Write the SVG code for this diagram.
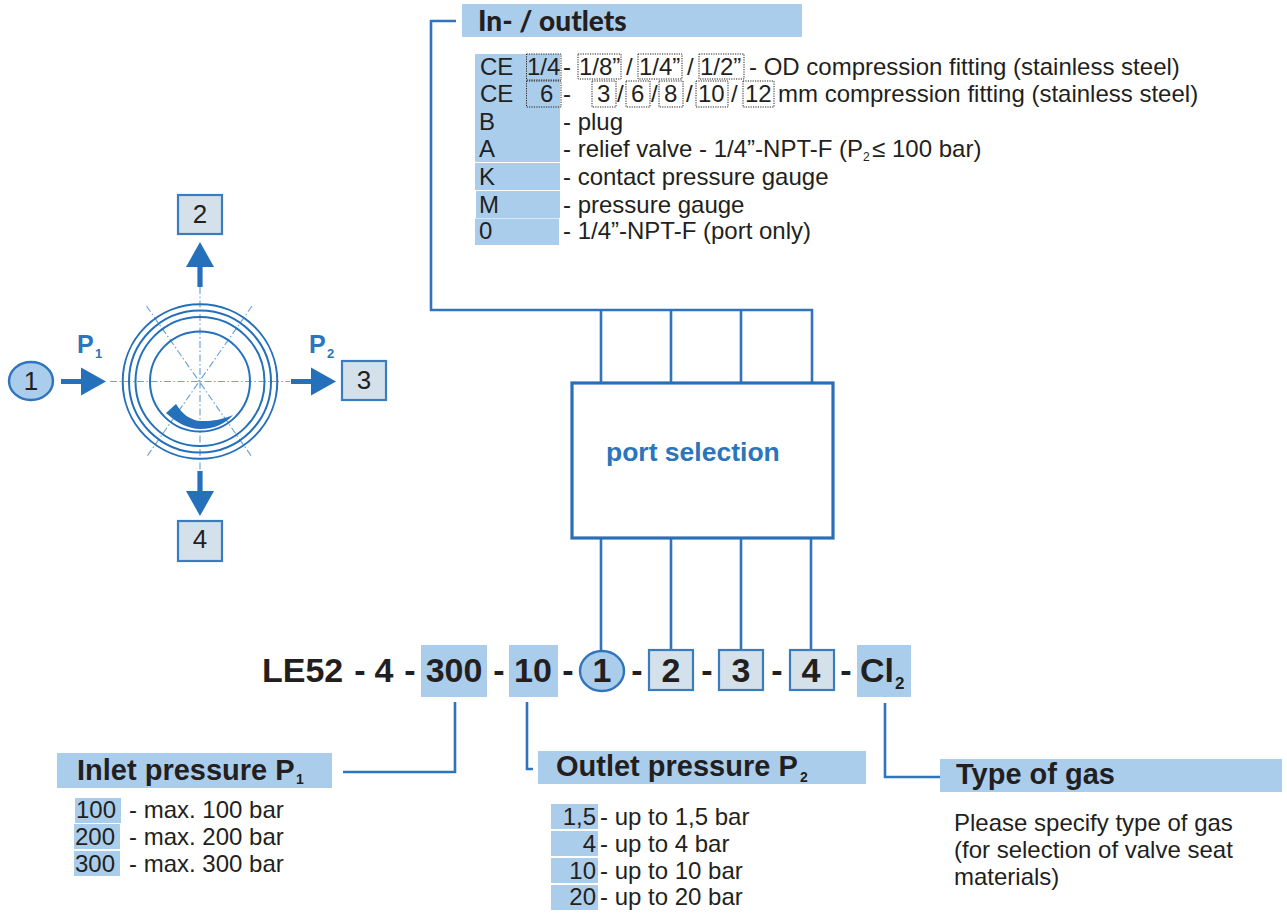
<svg xmlns="http://www.w3.org/2000/svg" width="1287" height="915" viewBox="0 0 1287 915">
<style>
text{font-family:"Liberation Sans",Arial,sans-serif;fill:#231f20}
.t{font-size:24px}
.h{font-size:29px;font-weight:bold}
.hs{font-size:14px;font-weight:bold}
.c{font-size:34px;font-weight:bold;text-anchor:middle}
.n{font-size:26px;text-anchor:middle}
.p{font-size:25px;font-weight:bold;fill:#2a75bb}
.s{font-size:13px;font-weight:bold;fill:#2a75bb}
.e{font-size:12px}
.m{text-anchor:end}
.b{fill:#abcdec}
.g{fill:#d5e1ea;stroke:#3a7cc0;stroke-width:2.2}
.o{fill:#abcdec;stroke:#2f74bc;stroke-width:2.4}
.d{fill:none;stroke:#231f20;stroke-width:1;stroke-dasharray:1.2 1.2}
.l{fill:none;stroke:#2f74bc;stroke-width:2.6}
.r{fill:none;stroke:#2470bb;stroke-width:2}
.x{fill:none;stroke:#6fa5d8;stroke-width:1.2;stroke-dasharray:7 2.500 1.500 2.500}
.a{fill:#2470bb}
</style>
<defs>
<path id="arr" class="a" d="M0-2.6H20V-14L45 0 20 14V2.6H0Z"/>
</defs>

<g id="connectors">
<path class="l" d="M456 21H431V310H812V383M601 310V383M671 310V383M741 310V383"/>
<path class="l" d="M601 538V651M671 538V650M741 538V650M811 538V650"/>
<path class="l" d="M455 702V772H343"/>
<path class="l" d="M527 702V769H533"/>
<path class="l" d="M885 703V777H940"/>
</g>

<g id="valve">
<path class="x" d="M110 381.500H290M200 287V472M146.500 306L252 457M252 306L146.500 457"/>
<circle class="r" cx="200" cy="381.500" r="77.300"/>
<circle class="r" cx="200" cy="381.500" r="71"/>
<circle class="r" cx="200" cy="381.500" r="64.500"/>
<circle class="r" cx="200" cy="381.500" r="50"/>
<path class="a" d="M176 404L166 413C178 424 190 429 200 429C215 429 226 423 233 415C222 420 210 421.500 200 421C190 420 182 414 176 404Z"/>
<use href="#arr" transform="translate(61 381.500)"/>
<use href="#arr" transform="translate(291 381.500)"/>
<use href="#arr" transform="translate(200 287) rotate(-90)"/>
<use href="#arr" transform="translate(200 471) rotate(90)"/>
<text class="p" x="77" y="353">P</text><text class="s" x="95" y="358">1</text>
<text class="p" x="309" y="353">P</text><text class="s" x="327" y="358">2</text>
</g>

<g id="port-1"><ellipse class="o" cx="31" cy="381" rx="22" ry="19"/><text class="n" x="31" y="390">1</text></g>
<g id="port-2"><rect class="g" x="178" y="195" width="44" height="39"/><text class="n" x="200" y="223">2</text></g>
<g id="port-3"><rect class="g" x="342" y="361" width="44" height="39"/><text class="n" x="364" y="389">3</text></g>
<g id="port-4"><rect class="g" x="178" y="521" width="44" height="40"/><text class="n" x="200" y="548">4</text></g>

<g id="port-selection">
<rect x="572" y="383" width="261" height="155" fill="#fff" stroke="#2a6fb5" stroke-width="3.200"/>
<text x="606" y="461" style="font-size:26.500px;font-weight:bold;fill:#2a75bb">port selection</text>
</g>

<g id="outlets">
<rect class="b" x="462" y="4" width="340" height="33"/>
<text x="478" y="31" style="font-family:Lato,'Liberation Sans',sans-serif;font-size:28px;font-weight:900">In- / outlets</text>
<path class="b" d="M475 54H560V162H475ZM475 163H560V190H475ZM476 191H560V218H476ZM475 218.500H559V245H475Z"/>
<rect class="d" x="526.500" y="54" width="34.500" height="26"/>
<rect class="d" x="526.500" y="81" width="34.500" height="26"/>
<rect class="d" x="578" y="54" width="43" height="25"/>
<rect class="d" x="638" y="54" width="44" height="25"/>
<rect class="d" x="699" y="54" width="45" height="25"/>
<rect class="d" x="592" y="81" width="24" height="26"/>
<rect class="d" x="626" y="81" width="24" height="26"/>
<rect class="d" x="659" y="81" width="24" height="26"/>
<rect class="d" x="696" y="81" width="32" height="26"/>
<rect class="d" x="743" y="81" width="31" height="26"/>
<text class="t" x="480" y="75">CE</text>
<text class="t" x="527" y="75">1/4</text>
<text class="t" x="563" y="75">-</text>
<text class="t" x="579" y="75">1/8”</text>
<text class="t" x="626" y="75">/</text>
<text class="t" x="639" y="75">1/4”</text>
<text class="t" x="687" y="75">/</text>
<text class="t" x="700" y="75">1/2”</text>
<text class="t" x="749" y="75">- OD compression fitting (stainless steel)</text>
<text class="t" x="480" y="102">CE</text>
<text class="t" x="540" y="102">6</text>
<text class="t" x="563" y="102">-</text>
<text class="t" x="597" y="102">3</text>
<text class="t" x="617" y="102">/</text>
<text class="t" x="631" y="102">6</text>
<text class="t" x="651" y="102">/</text>
<text class="t" x="664" y="102">8</text>
<text class="t" x="686" y="102">/</text>
<text class="t" x="698" y="102">10</text>
<text class="t" x="731" y="102">/</text>
<text class="t" x="745" y="102">12</text>
<text class="t" x="778" y="102">mm compression fitting (stainless steel)</text>
<text class="t" x="479" y="130">B</text><text class="t" x="563" y="130">- plug</text>
<text class="t" x="479" y="157">A</text><text class="t" x="563" y="157">- relief valve - 1/4”-NPT-F (P</text>
<text class="e" x="863" y="161">2</text><text class="t" x="872" y="157">≤</text><text class="t" x="892" y="157">100 bar)</text>
<text class="t" x="479" y="185">K</text><text class="t" x="563" y="185">- contact pressure gauge</text>
<text class="t" x="479" y="213">M</text><text class="t" x="563" y="213">- pressure gauge</text>
<text class="t" x="479" y="239">0</text><text class="t" x="563" y="239">- 1/4”-NPT-F (port only)</text>
</g>

<g id="code">
<rect class="b" x="421" y="645" width="66" height="52"/>
<rect class="b" x="509" y="645" width="49" height="52"/>
<rect class="b" x="857" y="645" width="54" height="52"/>
<text x="262" y="682" style="font-size:34px;font-weight:bold">LE52</text>
<text class="c" x="360" y="682">-</text>
<text class="c" x="384" y="682">4</text>
<text class="c" x="410" y="682">-</text>
<text class="c" x="454" y="682">300</text>
<text class="c" x="499" y="682">-</text>
<text class="c" x="533" y="682">10</text>
<text class="c" x="568" y="682">-</text>
<ellipse class="o" cx="602" cy="671" rx="22" ry="20"/><text class="c" x="602" y="682">1</text>
<text class="c" x="637" y="682">-</text>
<rect class="g" x="649" y="650" width="44" height="40"/><text class="c" x="671" y="682">2</text>
<text class="c" x="707" y="682">-</text>
<rect class="g" x="719" y="650" width="44" height="40"/><text class="c" x="741" y="682">3</text>
<text class="c" x="777" y="682">-</text>
<rect class="g" x="790" y="650" width="44" height="40"/><text class="c" x="811" y="682">4</text>
<text class="c" x="846" y="682">-</text>
<text x="860" y="682" style="font-size:34px;font-weight:bold">Cl</text>
<text x="895" y="689" style="font-size:17px;font-weight:bold">2</text>
</g>

<g id="inlet">
<rect class="b" x="57" y="753" width="275" height="35"/>
<text class="h" x="77" y="780">Inlet pressure P</text><text class="hs" x="296" y="784">1</text>
<rect class="b" x="75" y="798" width="46" height="25"/>
<rect class="b" x="74" y="824" width="46" height="25"/>
<rect class="b" x="74" y="851" width="46" height="25"/>
<text class="t" x="76" y="818">100</text><text class="t" x="129" y="818">- max. 100 bar</text>
<text class="t" x="75" y="845">200</text><text class="t" x="129" y="845">- max. 200 bar</text>
<text class="t" x="75" y="872">300</text><text class="t" x="129" y="872">- max. 300 bar</text>
</g>

<g id="outlet">
<rect class="b" x="538" y="751" width="328" height="33"/>
<text class="h" x="556" y="776">Outlet pressure P</text><text class="hs" x="800" y="782">2</text>
<rect class="b" x="551" y="804" width="47" height="25"/>
<rect class="b" x="551" y="831" width="47" height="25"/>
<rect class="b" x="551" y="858" width="47" height="25"/>
<rect class="b" x="551" y="885" width="47" height="25"/>
<text class="t m" x="596" y="825">1,5</text><text class="t" x="600" y="825">- up to 1,5 bar</text>
<text class="t m" x="596" y="852">4</text><text class="t" x="600" y="852">- up to 4 bar</text>
<text class="t m" x="596" y="879">10</text><text class="t" x="600" y="879">- up to 10 bar</text>
<text class="t m" x="596" y="905">20</text><text class="t" x="600" y="905">- up to 20 bar</text>
</g>

<g id="gas">
<rect class="b" x="940" y="759" width="342" height="33"/>
<text class="h" x="956" y="784">Type of gas</text>
<text class="t" x="954" y="831">Please specify type of gas</text>
<text class="t" x="954" y="858">(for selection of valve seat</text>
<text class="t" x="954" y="885">materials)</text>
</g>
</svg>
